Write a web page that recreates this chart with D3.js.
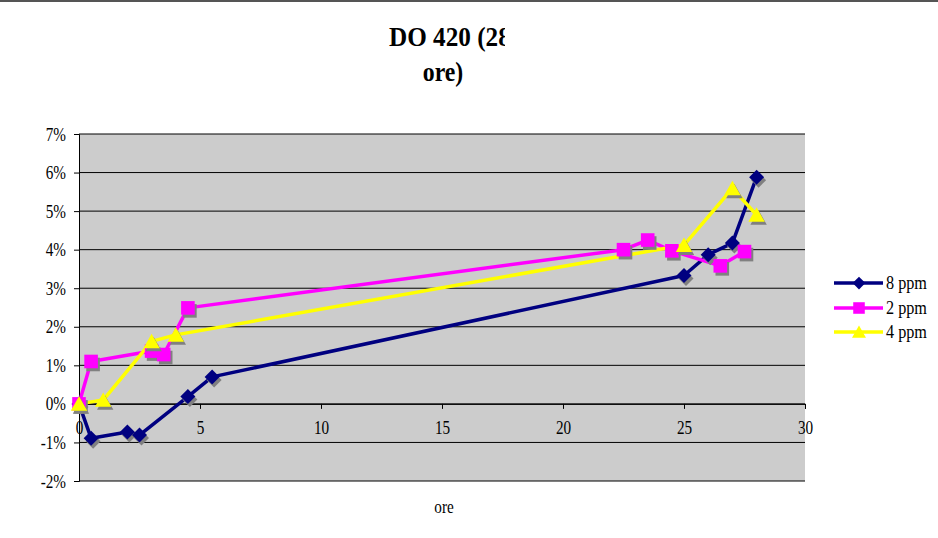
<!DOCTYPE html>
<html>
<head>
<meta charset="utf-8">
<script src="https://cdn.jsdelivr.net/npm/d3@7/dist/d3.min.js"></script>
<style>
  html, body { margin: 0; padding: 0; background: #fff; }
  svg { display: block; }
  text { font-family: "Liberation Serif", "Times New Roman", serif; fill: #000; }
</style>
</head>
<body>
<div id="chart"></div>
<script>
// x positions (ore) and measured change (fraction) for each concentration
const ore8 = [0, 0.5, 2, 2.5, 4.5, 5.5, 25, 26, 27, 28];
const val8 = [0, -0.0089, -0.0073, -0.0081, 0.0019, 0.0070, 0.0333, 0.0387, 0.0417, 0.0588];

const ore2 = [0, 0.5, 3, 3.5, 4.5, 22.5, 23.5, 24.5, 26.5, 27.5];
const val2 = [0, 0.0110, 0.0137, 0.0128, 0.0249, 0.0400, 0.0425, 0.0397, 0.0358, 0.0395];

const ore4 = [0, 1, 3, 4, 25, 27, 28];
const val4 = [0, 0.0010, 0.0162, 0.0179, 0.0412, 0.0559, 0.0490];

const seriesNames = ["8 ppm", "2 ppm", "4 ppm"];
const xTicks = [0, 5, 10, 15, 20, 25, 30];
const yTicks = [-0.02, -0.01, 0, 0.01, 0.02, 0.03, 0.04, 0.05, 0.06, 0.07];
const titleLines = ["DO 420 (28", "ore)"];
const xTitle = "ore";

const W = 938, H = 538;
const plot = { left: 79, right: 805, top: 134, bottom: 481 };
const textSX = 0.8; // narrow serif glyphs

const series = [
  { name: seriesNames[0], xs: ore8, ys: val8, color: "#000080", shape: "diamond" },
  { name: seriesNames[1], xs: ore2, ys: val2, color: "#FF00FF", shape: "square" },
  { name: seriesNames[2], xs: ore4, ys: val4, color: "#FFFF00", shape: "triangle" }
];

const svg = d3.select("#chart").append("svg").attr("width", W).attr("height", H);

// thin rule along the top edge
svg.append("rect").attr("x", 0).attr("y", 0).attr("width", W).attr("height", 2).attr("fill", "#555");

const x = d3.scaleLinear().domain([0, 30]).range([plot.left, plot.right]);
const y = d3.scaleLinear().domain([-0.02, 0.07]).range([plot.bottom, plot.top]);

// plot background
svg.append("rect")
  .attr("x", plot.left).attr("y", plot.top)
  .attr("width", plot.right - plot.left).attr("height", plot.bottom - plot.top)
  .attr("fill", "#cccccc");

// horizontal gridlines
svg.append("g").selectAll("line").data(yTicks).join("line")
  .attr("x1", plot.left).attr("x2", plot.right)
  .attr("y1", d => y(d)).attr("y2", d => y(d))
  .attr("stroke", "#000").attr("stroke-width", 1);

// y axis, percent labels with a plain hyphen for negatives
const pct = d => Math.round(d * 100) + "%";
const yAxis = svg.append("g").attr("transform", `translate(${plot.left},0)`)
  .call(d3.axisLeft(y).tickValues(yTicks).tickSize(5).tickFormat(pct));
yAxis.select(".domain").attr("stroke", "#000");
yAxis.selectAll(".tick line").attr("stroke", "#000");
yAxis.selectAll(".tick text")
  .attr("font-family", "Liberation Serif").attr("font-size", 19)
  .attr("x", -13 / textSX).attr("transform", `scale(${textSX},1)`);

// x axis crossing at 0%
const xAxis = svg.append("g").attr("transform", `translate(0,${y(0)})`)
  .call(d3.axisBottom(x).tickValues(xTicks).tickSize(5).tickPadding(12));
xAxis.select(".domain").attr("stroke", "#000");
xAxis.selectAll(".tick line").attr("stroke", "#000");
xAxis.selectAll(".tick text")
  .attr("font-family", "Liberation Serif").attr("font-size", 19)
  .attr("transform", `scale(${textSX},1)`);

// marker shapes
function shapePath(shape, s) {
  if (shape === "diamond") return `M0,${-s}L${s},0L0,${s}L${-s},0Z`;
  if (shape === "square") return `M${-s},${-s}H${s}V${s}H${-s}Z`;
  return `M0,${-s}L${s * 1.08},${s * 0.9}L${-s * 1.08},${s * 0.9}Z`;
}
const markerSize = { diamond: 7.5, square: 6.8, triangle: 7.6 };

const line = d3.line().x(d => x(d[0])).y(d => y(d[1]));

// lines first
series.forEach(s => {
  const pts = s.xs.map((v, i) => [v, s.ys[i]]);
  svg.append("path").datum(pts)
    .attr("d", line).attr("fill", "none")
    .attr("stroke", s.color).attr("stroke-width", 3.5)
    .attr("stroke-linejoin", "round");
});

// markers with drop shadows
series.forEach(s => {
  const pts = s.xs.map((v, i) => [v, s.ys[i]]);
  const g = svg.append("g");
  g.selectAll("path.sh").data(pts).join("path").attr("class", "sh")
    .attr("d", shapePath(s.shape, markerSize[s.shape]))
    .attr("transform", d => `translate(${x(d[0]) + 2},${y(d[1]) + 3})`)
    .attr("fill", "#808080");
  g.selectAll("path.mk").data(pts).join("path").attr("class", "mk")
    .attr("d", shapePath(s.shape, markerSize[s.shape]))
    .attr("transform", d => `translate(${x(d[0])},${y(d[1])})`)
    .attr("fill", s.color);
});

// legend
const legendRows = [283, 308, 332];
series.forEach((s, i) => {
  const ly = legendRows[i];
  svg.append("line").attr("x1", 834).attr("x2", 883).attr("y1", ly).attr("y2", ly)
    .attr("stroke", s.color).attr("stroke-width", 3.5);
  svg.append("path").attr("d", shapePath(s.shape, markerSize[s.shape] * 0.85))
    .attr("transform", `translate(859,${ly})`).attr("fill", s.color);
  svg.append("g").attr("transform", `translate(886,${ly + 6})`)
    .append("text").attr("font-size", 18).attr("transform", "scale(0.9,1)").text(s.name);
});

// title (first line cut at the chart's title box)
svg.append("clipPath").attr("id", "titleClip")
  .append("rect").attr("x", 0).attr("y", 0).attr("width", 505).attr("height", 60);
svg.append("g").attr("clip-path", "url(#titleClip)")
  .append("g").attr("transform", "translate(389,46)")
  .append("text").attr("font-size", 28).attr("font-weight", "bold")
  .attr("transform", "scale(0.9,1)").text(titleLines[0]);
svg.append("g").attr("transform", "translate(443,81)")
  .append("text").attr("font-size", 28).attr("font-weight", "bold")
  .attr("text-anchor", "middle").attr("transform", "scale(0.85,1)").text(titleLines[1]);

// x axis title
svg.append("g").attr("transform", "translate(444,513)")
  .append("text").attr("font-size", 19).attr("text-anchor", "middle")
  .attr("transform", `scale(${textSX},1)`).text(xTitle);
</script>
</body>
</html>
